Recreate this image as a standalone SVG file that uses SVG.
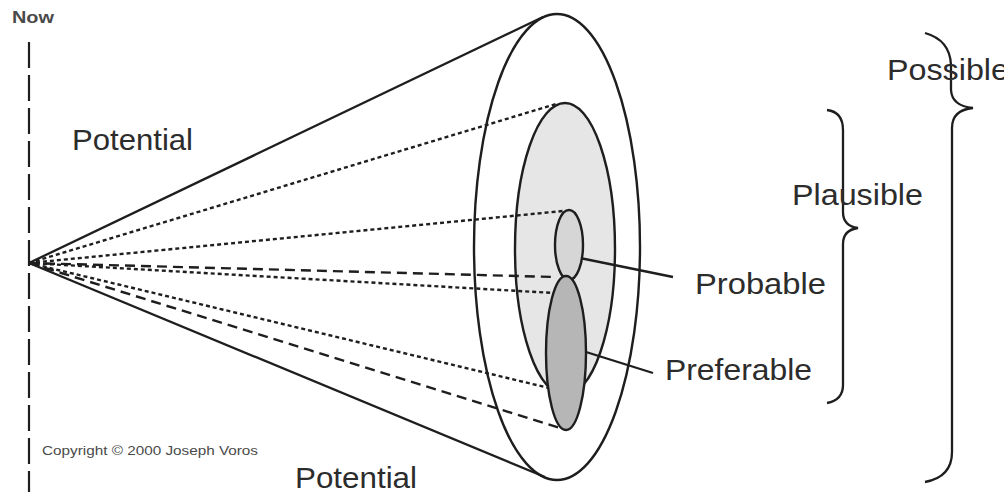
<svg xmlns="http://www.w3.org/2000/svg" width="1004" height="492" viewBox="0 0 1004 492">
  <style>
    .ln { stroke: #1e1e1e; stroke-width: 2.3; fill: none; }
    .dot { stroke: #1e1e1e; stroke-width: 2.4; fill: none; stroke-dasharray: 4 3; }
    .dash { stroke: #1e1e1e; stroke-width: 2.4; fill: none; stroke-dasharray: 10 6; }
    .lbl { font-family: "Liberation Sans", Arial, sans-serif; font-size: 30px; fill: #2c2c2c; }
    .small { font-family: "Liberation Sans", Arial, sans-serif; fill: #4a4a4a; }
  </style>
  <rect width="1004" height="492" fill="#ffffff"/>

  <g id="now-line">
    <line x1="29" y1="42" x2="29" y2="492" stroke="#1e1e1e" stroke-width="2.2" stroke-dasharray="26 7"/>
    <text class="small" x="12" y="23" font-size="17" font-weight="bold" textLength="42" lengthAdjust="spacingAndGlyphs">Now</text>
  </g>

  <g id="possible-cone">
    <ellipse cx="557" cy="247" rx="83" ry="233" fill="#ffffff" stroke="#1e1e1e" stroke-width="2.4"/>
  </g>
  <g id="plausible-cone">
    <ellipse cx="565" cy="249" rx="50" ry="146" fill="#e6e6e6" stroke="#1e1e1e" stroke-width="2.4"/>
  </g>

  <g id="connectors">
    <line class="ln" x1="29" y1="263" x2="543" y2="17"/>
    <line class="ln" x1="29" y1="263" x2="545" y2="477"/>
    <line class="dot" x1="29" y1="263" x2="556" y2="104"/>
    <line class="dot" x1="29" y1="263" x2="563" y2="211"/>
    <line class="dash" x1="29" y1="263" x2="555" y2="277"/>
    <line class="dot" x1="29" y1="263" x2="554" y2="293"/>
    <line class="dot" x1="29" y1="263" x2="549" y2="388"/>
    <line class="dash" x1="29" y1="263" x2="560" y2="428"/>
    <line class="ln" x1="575" y1="257" x2="673" y2="277"/>
    <line class="ln" x1="586" y1="352" x2="653" y2="373"/>
  </g>

  <g id="probable">
    <ellipse cx="569" cy="245" rx="14" ry="35" fill="#d6d6d6" stroke="#1e1e1e" stroke-width="2.4"/>
    <text class="lbl" x="695" y="294" textLength="131" lengthAdjust="spacingAndGlyphs">Probable</text>
  </g>
  <g id="preferable">
    <ellipse cx="566" cy="353" rx="20" ry="77" fill="#b6b6b6" stroke="#1e1e1e" stroke-width="2.4"/>
    <text class="lbl" x="665" y="380" textLength="147" lengthAdjust="spacingAndGlyphs">Preferable</text>
  </g>

  <g id="plausible-label">
    <path class="ln" d="M827,110 Q843,112 843,130 L843,212 Q843,226 858,228 Q843,230 843,244 L843,385 Q843,400 827,403"/>
    <text class="lbl" x="792" y="205" textLength="131" lengthAdjust="spacingAndGlyphs">Plausible</text>
  </g>
  <g id="possible-label">
    <path class="ln" d="M925,33 Q950,40 951,65 L951,90 Q952,106 973,108 Q952,110 952,128 L952,452 Q952,477 925,482"/>
    <text class="lbl" x="887" y="80" textLength="122" lengthAdjust="spacingAndGlyphs">Possible</text>
  </g>

  <g id="potential-labels">
    <text class="lbl" x="72" y="150" textLength="121" lengthAdjust="spacingAndGlyphs">Potential</text>
    <text class="lbl" x="295" y="488" textLength="122" lengthAdjust="spacingAndGlyphs">Potential</text>
  </g>

  <g id="copyright">
    <text class="small" x="42" y="455" font-size="13" textLength="216" lengthAdjust="spacingAndGlyphs">Copyright © 2000 Joseph Voros</text>
  </g>
</svg>
